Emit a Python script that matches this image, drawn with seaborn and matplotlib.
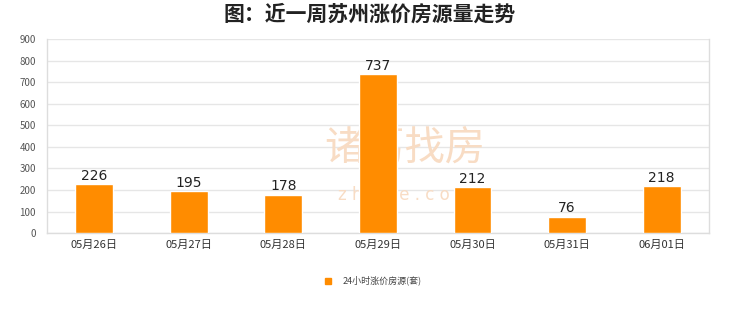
import matplotlib
matplotlib.use("Agg")
import matplotlib.pyplot as plt
import seaborn as sns
import pandas as pd
from matplotlib.lines import Line2D

categories = ["05月26日", "05月27日", "05月28日", "05月29日", "05月30日", "05月31日", "06月01日"]
values = [226, 195, 178, 737, 212, 76, 218]
yticks = [0, 100, 200, 300, 400, 500, 600, 700, 800, 900]
series_name = "24小时涨价房源(套)"
title = "图：近一周苏州涨价房源量走势"

sns.set_theme(style="white")
plt.rcParams['font.family'] = ['Noto Sans CJK SC', 'DejaVu Sans']

df = pd.DataFrame({"date": categories, "value": values, "series": series_name})

fig = plt.figure(figsize=(7.4, 3.12), dpi=100)
fig.patch.set_facecolor("white")
ax = fig.add_axes([0.0635, 0.253, 0.8945, 0.622])

sns.barplot(data=df, x="date", y="value", hue="series", palette=["#FF8C00"],
            width=0.4, ax=ax, zorder=3, saturation=1, legend=False)

ax.set_ylim(0, 900)
ax.set_yticks(yticks)
ax.set_xlim(-0.5, len(categories) - 0.5)
ax.yaxis.grid(True, color="#e6e6e6", linewidth=1, zorder=0)
ax.set_axisbelow(True)
ax.set_xlabel("")
ax.set_ylabel("")
ax.tick_params(axis="y", labelsize=7, colors="#555555", length=0, pad=8)
ax.tick_params(axis="x", labelsize=8, colors="#333333", length=0, pad=5)
for s in ["left", "bottom", "right"]:
    ax.spines[s].set_color("#dddddd")
    ax.spines[s].set_linewidth(1)
ax.spines["top"].set_visible(False)

for c in ax.containers:
    ax.bar_label(c, labels=[str(v) for v in values], fontsize=10, color="#222222",
                 padding=1, family="DejaVu Sans", zorder=4)

# watermark
ax.text(0.54, 0.44, "诸葛找房", transform=ax.transAxes, fontsize=29, color="#F8DCC4",
        ha="center", va="center", zorder=1)
ax.text(0.54, 0.195, "z h u g e . c o m", transform=ax.transAxes, fontsize=12, color="#F8DCC4",
        ha="center", va="center", zorder=1, family="DejaVu Sans")

fig.text(0.5, 0.953, title, ha="center", va="center", fontsize=15, fontweight="bold",
         color="#222222")

handle = Line2D([], [], marker="s", linestyle="", color="#FF8C00", markersize=5)
fig.legend([handle], [series_name], loc="center", bbox_to_anchor=(0.5, 0.1),
           frameon=False, fontsize=6.5, labelcolor="#444444", handletextpad=0.6)

fig.savefig("out.png", dpi=100)
